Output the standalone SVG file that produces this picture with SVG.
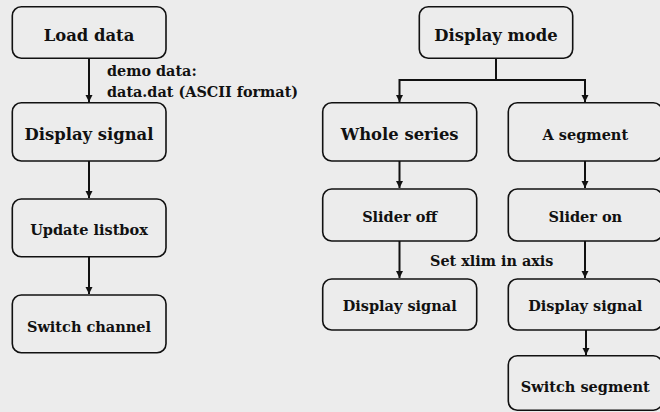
<svg xmlns="http://www.w3.org/2000/svg" width="660" height="412" viewBox="0 0 660 412">
<defs>
<marker id="ah" markerWidth="8" markerHeight="8" refX="7" refY="4" orient="auto" markerUnits="userSpaceOnUse">
<path d="M0,0.5 L7,4 L0,7.5 Z" fill="#111"/>
</marker>
<style>
.box{fill:#ececec;stroke:#111;stroke-width:1.6}
.t{font-family:"DejaVu Serif","Liberation Serif",serif;font-weight:bold;fill:#111;text-anchor:middle}
.big{font-size:16.4px}
.sm{font-size:14.5px}
.lbl{font-family:"DejaVu Serif","Liberation Serif",serif;font-weight:bold;fill:#111;font-size:14.4px}
.c{fill:none;stroke:#111;stroke-width:2}
</style>
</defs>
<rect width="660" height="412" fill="#ececec"/>
<g id="connectors">
<line class="c" x1="89" y1="58" x2="89" y2="102" marker-end="url(#ah)"/>
<line class="c" x1="89" y1="161" x2="89" y2="198" marker-end="url(#ah)"/>
<line class="c" x1="89" y1="257" x2="89" y2="294" marker-end="url(#ah)"/>
<polyline class="c" points="496,58 496,80 399.5,80 399.5,102" marker-end="url(#ah)"/>
<polyline class="c" points="496,80 585,80 585,102" marker-end="url(#ah)"/>
<line class="c" x1="399.5" y1="161" x2="399.5" y2="188" marker-end="url(#ah)"/>
<line class="c" x1="585" y1="161" x2="585" y2="188" marker-end="url(#ah)"/>
<line class="c" x1="399.5" y1="241" x2="399.5" y2="278" marker-end="url(#ah)"/>
<line class="c" x1="585" y1="241" x2="585" y2="278" marker-end="url(#ah)"/>
<line class="c" x1="586" y1="330" x2="586" y2="355" marker-end="url(#ah)"/>
<text class="lbl" x="107" y="76">demo data:</text>
<text class="lbl" x="107" y="96.5">data.dat (ASCII format)</text>
<text class="lbl" x="430" y="266">Set xlim in axis</text>
</g>
<g id="load-data"><rect class="box" x="12.3" y="6.8" width="153.7" height="51.5" rx="9"/><text class="t big" x="89" y="40.5">Load data</text></g>
<g id="display-signal-1"><rect class="box" x="12.3" y="102.7" width="153.7" height="58.3" rx="9"/><text class="t big" x="89" y="139.5">Display signal</text></g>
<g id="update-listbox"><rect class="box" x="12.3" y="199" width="153.7" height="57.7" rx="9"/><text class="t sm" x="89" y="235">Update listbox</text></g>
<g id="switch-channel"><rect class="box" x="12.3" y="295" width="153.7" height="57.7" rx="9"/><text class="t sm" x="89" y="331.5">Switch channel</text></g>
<g id="display-mode"><rect class="box" x="419.3" y="6.8" width="153.4" height="51.5" rx="9"/><text class="t big" x="496" y="40.5">Display mode</text></g>
<g id="whole-series"><rect class="box" x="322.7" y="102.7" width="154" height="58.3" rx="9"/><text class="t big" x="399.7" y="139.5">Whole series</text></g>
<g id="a-segment"><rect class="box" x="508.3" y="102.7" width="154" height="58.3" rx="9"/><text class="t sm" x="585.3" y="139.5">A segment</text></g>
<g id="slider-off"><rect class="box" x="322.7" y="189" width="154" height="52" rx="9"/><text class="t sm" x="399.7" y="222.3">Slider off</text></g>
<g id="slider-on"><rect class="box" x="508.3" y="189" width="154" height="52" rx="9"/><text class="t sm" x="585.3" y="222.3">Slider on</text></g>
<g id="display-signal-2"><rect class="box" x="322.7" y="279" width="154" height="51" rx="9"/><text class="t sm" x="399.7" y="310.7">Display signal</text></g>
<g id="display-signal-3"><rect class="box" x="508.3" y="279" width="154" height="51" rx="9"/><text class="t sm" x="585.3" y="310.7">Display signal</text></g>
<g id="switch-segment"><rect class="box" x="508.3" y="355.7" width="154" height="54.5" rx="9"/><text class="t sm" x="585.3" y="391.7">Switch segment</text></g>
</svg>
